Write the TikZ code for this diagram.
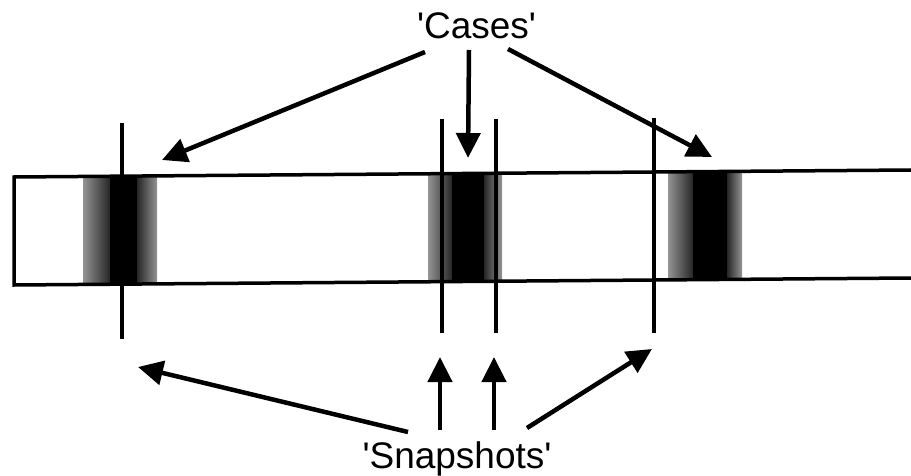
\documentclass[tikz,border=0pt]{standalone}
\usepackage{fontspec}
\setmainfont{Liberation Sans}[Ligatures=TeXOff]
\usetikzlibrary{arrows.meta}
\begin{document}
\begin{tikzpicture}[x=1pt,y=-1pt,
  arr/.style={line width=4.5pt,-{Triangle[length=25pt,width=24pt]}},
  snapline/.style={line width=4pt},
  band/.style={line width=3.5pt},
  lbl/.style={font=\fontsize{37}{40}\selectfont, inner sep=0pt, anchor=base}]
\useasboundingbox (0,0) rectangle (911,476);
% shaded bands
\begin{scope}
\clip (14,177) -- (911,170) -- (911,278) -- (14,285) -- cycle;
\foreach \a/\b/\c/\d in {83/110/137/157, 428/452/484/502, 668/693/727/742} {
  \shade[left color=black!42, right color=black!85] (\a,160) rectangle (\b,300);
  \fill[black] (\b,160) rectangle (\c,300);
  \shade[left color=black!85, right color=black!42] (\c,160) rectangle (\d,300);
}
\end{scope}
\draw[band] (911,170) -- (14,177) -- (14,285) -- (911,278);
% snapshot lines
\coordinate (s1t) at (122,123); \coordinate (s1b) at (122,339);
\coordinate (s2t) at (442,119); \coordinate (s2b) at (442,333);
\coordinate (s3t) at (496,119); \coordinate (s3b) at (496,333);
\coordinate (s4t) at (654,118); \coordinate (s4b) at (654,333);
\foreach \i in {1,2,3,4} \draw[snapline] (s\i t) -- (s\i b);
% labels
\node[lbl] (cases) at (476.5,39) {'Cases'};
\node[lbl] (snaps) at (457,468) {'Snapshots'};
% arrow ends
\coordinate (c1s) at (425,52);  \coordinate (c1e) at (162,160);
\coordinate (c2s) at (469,50);  \coordinate (c2e) at (468,158);
\coordinate (c3s) at (508,49);  \coordinate (c3e) at (712,157);
\coordinate (p1s) at (408,432); \coordinate (p1e) at (138,367);
\coordinate (p2s) at (440,430); \coordinate (p2e) at (440,357);
\coordinate (p3s) at (494,430); \coordinate (p3e) at (494,357);
\coordinate (p4s) at (527,428); \coordinate (p4e) at (652,349);
\foreach \n in {c1,c2,c3,p1,p2,p3,p4} \draw[arr] (\n s) -- (\n e);
\end{tikzpicture}
\end{document}
